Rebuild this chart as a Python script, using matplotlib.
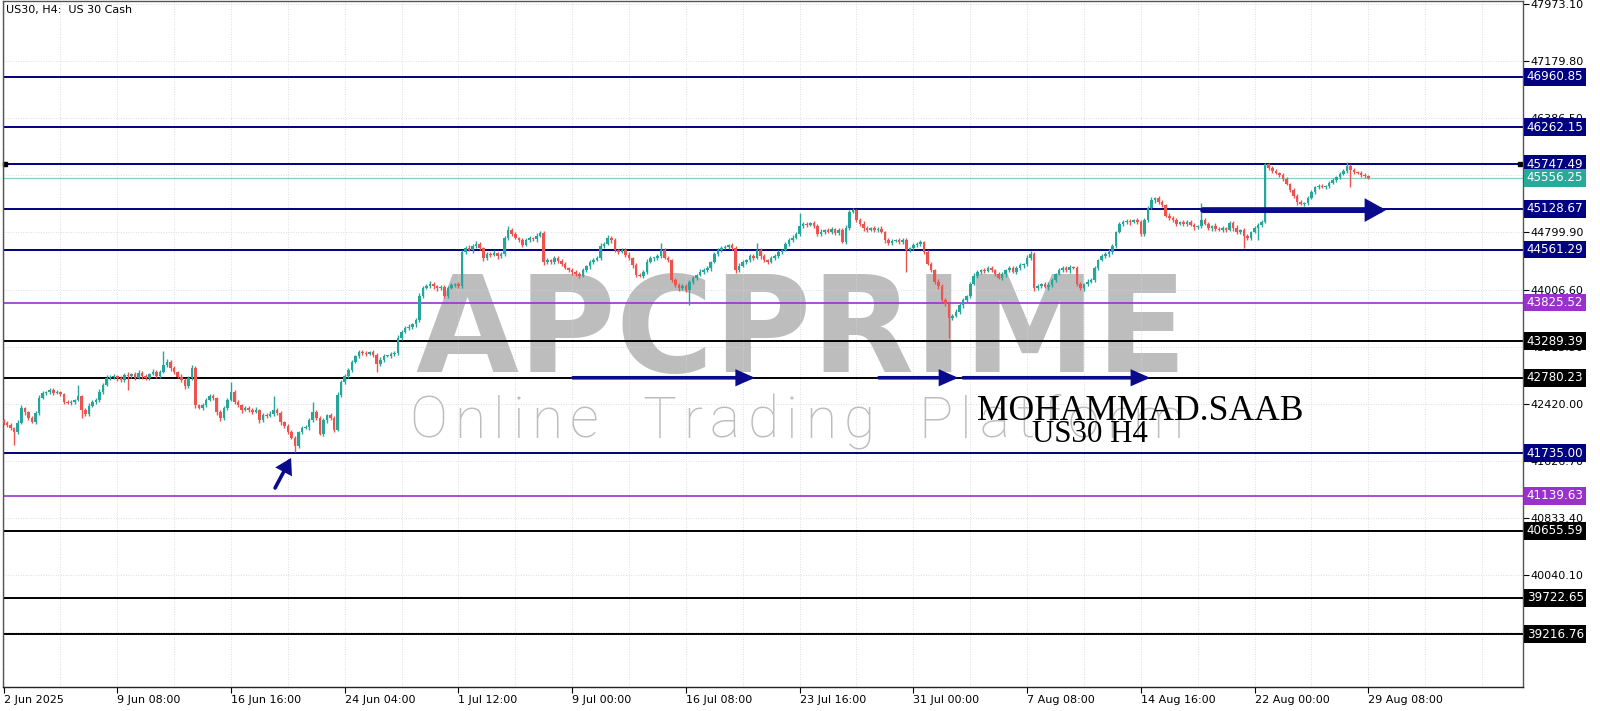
import matplotlib
matplotlib.use("Agg")
import matplotlib.pyplot as plt
import matplotlib.transforms as mtransforms
import numpy as np

# ------------------------------------------------------------------ data
first_open = 42190.0
closes = [42150,
  # 2 Jun .. 9 Jun
  42124, 42082, 42027, 42152, 42360, 42305, 42221, 42166, 42291, 42499, 42569, 42583, 42610, 42569, 42583, 42555,
  42444, 42430, 42444, 42471, 42527, 42332, 42277, 42388, 42444, 42471, 42583, 42680, 42777, 42791, 42805, 42777,
  # 9 Jun .. 16 Jun
  42749, 42819, 42805, 42833, 42777, 42847, 42805, 42777, 42833, 42861, 42805, 42861, 42958, 42999, 42916, 42861,
  42791, 42749, 42666, 42777, 42916, 42402, 42360, 42402, 42471, 42527, 42499, 42305, 42221, 42360, 42471, 42583,
  # 16 Jun .. 24 Jun
  42444, 42402, 42332, 42360, 42332, 42305, 42332, 42193, 42263, 42249, 42277, 42332, 42291, 42166, 42110, 42027,
  41943, 41832, 42027, 42082, 42096, 42193, 42305, 42221, 41999, 42193, 42263, 42221, 42054, 42541, 42722, 42805,
  # 24 Jun .. 1 Jul
  42888, 42999, 43083, 43138, 43125, 43111, 43138, 43097, 42971, 43027, 43083, 43083, 43111, 43125, 43333, 43416,
  43472, 43486, 43527, 43583, 43916, 44027, 44055, 44083, 44055, 44027, 44041, 43916, 44027, 44069, 44083, 44055,
  # 1 Jul .. 9 Jul
  44528, 44583, 44555, 44611, 44639, 44583, 44444, 44500, 44486, 44514, 44472, 44500, 44722, 44833, 44778, 44722,
  44694, 44625, 44694, 44722, 44708, 44750, 44792, 44389, 44416, 44389, 44444, 44402, 44361, 44305, 44277, 44250,
  # 9 Jul .. 16 Jul
  44222, 44194, 44277, 44333, 44389, 44416, 44444, 44611, 44639, 44722, 44694, 44555, 44528, 44555, 44486, 44444,
  44347, 44208, 44194, 44250, 44389, 44444, 44444, 44472, 44555, 44444, 44416, 44139, 44069, 44027, 44055, 44000,
  # 16 Jul .. 23 Jul
  44111, 44166, 44208, 44250, 44277, 44305, 44389, 44500, 44555, 44583, 44597, 44625, 44583, 44277, 44333, 44389,
  44416, 44472, 44444, 44555, 44472, 44416, 44389, 44444, 44472, 44528, 44555, 44639, 44694, 44722, 44778, 44889,
  # 23 Jul .. 31 Jul
  44917, 44903, 44931, 44889, 44778, 44806, 44833, 44806, 44847, 44792, 44833, 44667, 44861, 45083, 45111, 44972,
  44917, 44861, 44833, 44861, 44833, 44847, 44806, 44694, 44653, 44681, 44694, 44667, 44694, 44555, 44583, 44625,
  # 31 Jul .. 7 Aug
  44639, 44667, 44528, 44361, 44277, 44111, 44055, 43861, 43805, 43611, 43639, 43694, 43791, 43861, 43916, 44083,
  44194, 44250, 44277, 44264, 44305, 44277, 44222, 44166, 44222, 44277, 44305, 44250, 44305, 44347, 44361, 44444,
  # 7 Aug .. 14 Aug
  44500, 44027, 44055, 44083, 44041, 44069, 44139, 44222, 44277, 44305, 44277, 44319, 44305, 44083, 44027, 44083,
  44111, 44139, 44305, 44416, 44472, 44500, 44528, 44611, 44806, 44917, 44944, 44958, 44944, 44972, 44944, 44778,
  # 14 Aug .. 22 Aug
  44972, 45139, 45250, 45278, 45222, 45181, 45028, 45000, 44972, 44917, 44944, 44917, 44944, 44903, 44875, 44889,
  44972, 44917, 44861, 44889, 44847, 44833, 44861, 44833, 44931, 44861, 44806, 44833, 44750, 44722, 44806, 44861,
  # 22 Aug .. 29 Aug
  44903, 44944, 45750, 45694, 45653, 45625, 45597, 45542, 45472, 45389, 45306, 45222, 45194, 45208, 45278, 45361,
  45431, 45445, 45431, 45445, 45486, 45528, 45570, 45611, 45653, 45722, 45667, 45639, 45625, 45597, 45583, 45556.25,
]

wick_up = [20,
  25, 30, 20, 35, 40, 20, 15, 30, 25, 45, 30, 20, 35, 25, 30, 20, 15, 25, 30, 20, 153, 20, 25, 35, 30, 25, 40, 30, 35, 25, 30, 20,
  30, 25, 35, 20, 30, 40, 25, 30, 20, 35, 30, 25, 195, 40, 30, 25, 20, 35, 30, 25, 40, 30, 20, 25, 35, 30, 25, 20, 30, 35, 25, 139,
  30, 25, 20, 35, 30, 25, 40, 20, 30, 25, 35, 195, 25, 30, 20, 25, 30, 25, 20, 35, 30, 25, 139, 30, 25, 35, 20, 30, 25, 40, 30, 25,
  25, 30, 20, 35, 25, 30, 20, 25, 30, 35, 25, 20, 30, 25, 40, 30, 25, 35, 20, 30, 45, 30, 25, 35, 30, 20, 25, 30, 35, 25, 20, 30,
  30, 25, 35, 30, 40, 25, 20, 30, 25, 35, 20, 25, 30, 50, 25, 30, 20, 35, 25, 30, 20, 40, 30, 25, 35, 20, 30, 25, 35, 30, 20, 25,
  30, 25, 35, 20, 30, 25, 30, 35, 25, 40, 30, 25, 20, 30, 25, 35, 20, 30, 25, 30, 35, 25, 20, 30, 98, 25, 30, 20, 25, 30, 35, 25,
  25, 30, 20, 35, 25, 30, 20, 25, 35, 30, 25, 20, 30, 25, 35, 30, 20, 25, 30, 98, 25, 30, 20, 35, 25, 30, 20, 25, 30, 35, 25, 180,
  30, 25, 20, 30, 25, 35, 20, 30, 25, 20, 30, 25, 35, 30, 25, 20, 30, 35, 25, 20, 30, 25, 35, 20, 30, 25, 20, 35, 30, 25, 20, 30,
  25, 30, 20, 25, 30, 20, 35, 25, 30, 20, 25, 35, 30, 25, 20, 30, 35, 25, 20, 30, 25, 35, 20, 30, 25, 20, 30, 35, 25, 30, 20, 40,
  40, 25, 30, 20, 25, 35, 30, 20, 25, 30, 35, 25, 20, 30, 25, 20, 35, 30, 25, 20, 30, 25, 35, 30, 20, 25, 30, 35, 25, 20, 30, 25,
  25, 30, 35, 20, 25, 30, 20, 35, 25, 30, 20, 25, 30, 35, 25, 20, 236, 30, 25, 20, 35, 30, 25, 20, 30, 25, 35, 20, 30, 25, 20, 30,
  30, 25, 15, 20, 30, 25, 20, 30, 25, 20, 30, 25, 35, 20, 30, 25, 20, 30, 25, 20, 30, 25, 20, 30, 25, 56, 30, 25, 20, 30, 25, 20,
]

wick_dn = [25,
  30, 25, 181, 30, 20, 35, 25, 20, 30, 25, 20, 30, 25, 35, 20, 30, 25, 20, 30, 25, 20, 111, 30, 25, 20, 35, 25, 30, 20, 25, 30, 35,
  25, 30, 200, 25, 30, 20, 35, 25, 30, 20, 25, 30, 20, 25, 35, 30, 20, 25, 40, 30, 25, 35, 20, 30, 25, 20, 30, 40, 35, 25, 30, 20,
  25, 30, 35, 20, 25, 30, 20, 35, 25, 30, 20, 25, 30, 35, 25, 30, 20, 87, 30, 25, 20, 35, 25, 30, 20, 25, 35, 30, 25, 20, 30, 25,
  30, 25, 20, 30, 25, 35, 20, 30, 110, 25, 30, 20, 25, 35, 30, 25, 20, 30, 25, 35, 30, 25, 20, 30, 35, 40, 25, 30, 25, 20, 30, 25,
  25, 30, 20, 35, 25, 30, 40, 25, 30, 20, 35, 25, 30, 25, 35, 20, 30, 25, 20, 30, 25, 35, 20, 40, 30, 25, 35, 30, 25, 20, 30, 35,
  25, 30, 20, 25, 35, 30, 20, 25, 30, 20, 35, 25, 30, 20, 25, 30, 35, 25, 20, 30, 25, 20, 35, 30, 25, 20, 30, 35, 25, 40, 30, 25,
  209, 30, 25, 20, 30, 25, 35, 20, 30, 25, 20, 30, 25, 35, 30, 20, 25, 30, 25, 20, 35, 30, 25, 20, 30, 25, 35, 20, 25, 30, 20, 25,
  25, 30, 20, 25, 35, 30, 25, 20, 30, 25, 35, 20, 30, 25, 20, 30, 25, 35, 30, 20, 25, 30, 20, 35, 25, 30, 20, 25, 30, 305, 25, 30,
  30, 25, 35, 20, 30, 25, 35, 30, 25, 278, 30, 20, 25, 35, 30, 25, 20, 30, 25, 35, 20, 30, 25, 20, 30, 35, 25, 20, 30, 25, 35, 30,
  25, 40, 30, 25, 20, 35, 30, 25, 20, 30, 25, 35, 20, 30, 25, 35, 30, 20, 25, 30, 20, 25, 35, 30, 25, 20, 30, 25, 35, 20, 30, 25,
  30, 25, 20, 35, 25, 30, 20, 25, 30, 35, 20, 25, 30, 20, 35, 25, 30, 20, 25, 35, 30, 20, 25, 30, 20, 35, 25, 30, 167, 25, 30, 20,
  167, 30, 20, 25, 30, 20, 25, 30, 20, 25, 30, 35, 20, 25, 30, 20, 25, 30, 20, 25, 30, 20, 25, 30, 20, 25, 236, 30, 20, 25, 30, 20,
]

date_label_bars = [0, 32, 64, 96, 128, 160, 192, 224, 256, 288, 320, 352, 384]
date_labels = ["2 Jun 2025", "9 Jun 08:00", "16 Jun 16:00", "24 Jun 04:00", "1 Jul 12:00",
               "9 Jul 00:00", "16 Jul 08:00", "23 Jul 16:00", "31 Jul 00:00", "7 Aug 08:00",
               "14 Aug 16:00", "22 Aug 00:00", "29 Aug 08:00"]

price_ticks = [47973.10, 47179.80, 46386.50, 45593.20, 44799.90, 44006.60,
               43213.30, 42420.00, 41626.70, 40833.40, 40040.10, 39246.80]
# tick labels that the price boxes cover completely in the chart
hidden_ticks = [45593.20, 39246.80]

levels = [46960.85, 46262.15, 45747.49, 45556.25, 45128.67, 44561.29, 43825.52,
          43289.39, 42780.23, 41735.00, 41139.63, 40655.59, 39722.65, 39216.76]
level_kinds = ["navy", "navy", "navy", "bid", "navy", "navy", "purple",
               "black", "black", "navy", "purple", "black", "black", "black"]

# arrows drawn on the chart: (bar from, price from, bar to, price to, kind)
arrows = [
    (76.4, 41249, 80.9, 41666, "small"),
    (160.2, 42780.23, 211.4, 42780.23, "normal"),
    (246.3, 42780.23, 268.6, 42780.23, "normal"),
    (270.0, 42780.23, 322.6, 42780.23, "normal"),
    (337.5, 45110.00, 389.0, 45110.00, "thick"),
]

# ------------------------------------------------------------------ style
UP = "#26a69a"
DN = "#ef5350"
NAVY = "#000080"
ARROW = "#0a0a8c"
STY = {
    "navy":   dict(line=NAVY, lw=1.4, box=NAVY),
    "bid":    dict(line="#8ccccc", lw=0.9, box="#2aa89c"),
    "purple": dict(line="#9932cc", lw=1.2, box="#9932cc"),
    "black":  dict(line="#000000", lw=1.4, box="#000000"),
}

W, H, DPI = 1600, 711, 100
fig = plt.figure(figsize=(W / DPI, H / DPI), dpi=DPI)
fig.patch.set_facecolor("white")
L, R, T, B = 3, 1523, 1, 687
ax = fig.add_axes([L / W, 1 - B / H, (R - L) / W, (B - T) / H])
ax.patch.set_visible(False)

BAR_PX = 3.554
x0 = -0.15
ax.set_xlim(x0, x0 + (R - L) / BAR_PX)
PT_PER_PX = 13.893
ymax = 47973.10 + (4 - T) * PT_PER_PX
ax.set_ylim(ymax - (B - T) * PT_PER_PX, ymax)

# grid
for xb in range(0, 430, 16):
    ax.axvline(xb, color="#d4d4d4", lw=0.6, ls=(0, (1, 2)), zorder=0)
for p in price_ticks:
    ax.axhline(p, color="#d4d4d4", lw=0.6, ls=(0, (1, 2)), zorder=0)

# level lines
ytrans = mtransforms.blended_transform_factory(ax.transAxes, ax.transData)
for lev, kind in zip(levels, level_kinds):
    s = STY[kind]
    ax.axhline(lev, color=s["line"], lw=s["lw"], zorder=1)
    ax.text(1.0025, lev, f"{lev:.2f}", transform=ytrans, color="white", fontsize=8.6,
            va="center", ha="left", clip_on=False, zorder=10,
            bbox=dict(boxstyle="square,pad=0.2", fc=s["box"], ec="none"))
ax.plot([0.3, 426.6], [levels[2], levels[2]], "s", ms=3.5, color="black",
        clip_on=False, zorder=2)

# candles
n = len(closes)
o = np.array([first_open] + closes[:-1], dtype=float)
c = np.array(closes, dtype=float)
hi = np.maximum(o, c) + np.array(wick_up)
lo = np.minimum(o, c) - np.array(wick_dn)
xs = np.arange(n)
cols = np.where(c >= o, UP, DN)
ax.vlines(xs, lo, hi, colors=cols, lw=1.0, zorder=3)
ax.bar(xs, np.maximum(np.abs(c - o), 14), bottom=np.minimum(o, c), width=0.72,
       color=cols, lw=0, zorder=3)

# arrows
ARR = {
    "small":  dict(lw=2.6, hl=0.75, hw=0.45),
    "normal": dict(lw=2.6, hl=0.95, hw=0.42),
    "thick":  dict(lw=4.2, hl=0.9, hw=0.5),
}
for xa, ya, xb, yb, kind in arrows:
    a = ARR[kind]
    ax.annotate("", xy=(xb, yb), xytext=(xa, ya),
                arrowprops=dict(arrowstyle=f"-|>,head_length={a['hl']},head_width={a['hw']}",
                                lw=a["lw"], color=ARROW, shrinkA=0, shrinkB=0,
                                mutation_scale=10, joinstyle="miter"),
                zorder=6)

# axes appearance
for sp in ax.spines.values():
    sp.set_color("#555555")
    sp.set_linewidth(1.0)
ax.spines["bottom"].set_color("#222222")
ax.yaxis.tick_right()
ax.set_yticks(price_ticks)
ax.set_yticklabels(["" if p in hidden_ticks else f"{p:.2f}" for p in price_ticks])
ax.set_xticks(date_label_bars)
ax.set_xticklabels(date_labels, ha="left")
ax.tick_params(axis="y", length=4, width=0.8, pad=1, labelsize=8, colors="black")
ax.tick_params(axis="x", length=4, width=0.8, pad=2, labelsize=8, colors="black")

fig.text(6 / W, 1 - 10 / H, "US30, H4:  US 30 Cash", fontsize=8, va="center", ha="left")

# ------------------------------------------------------------------ watermark and signature
fig.canvas.draw()
renderer = fig.canvas.get_renderer()


def fit_text(s, left_px, baseline_px, width_px, **kw):
    t = fig.text(left_px / W, 1 - baseline_px / H, s, va="baseline", ha="left",
                 fontsize=100, **kw)
    w = t.get_window_extent(renderer).width
    t.set_fontsize(100 * width_px / w)
    return t


def tracked_text(s, left_px, right_px, baseline_px, fontsize, space_em=0.3, **kw):
    widths = []
    for ch in s:
        if ch == " ":
            widths.append(fontsize * DPI / 72 * space_em)
            continue
        t = fig.text(0, 0, ch, fontsize=fontsize, **kw)
        widths.append(t.get_window_extent(renderer).width)
        t.remove()
    gap = (right_px - left_px - sum(widths)) / (len(s) - 1)
    x = left_px
    for ch, w in zip(s, widths):
        if ch != " ":
            fig.text(x / W, 1 - baseline_px / H, ch, fontsize=fontsize, va="baseline",
                     ha="left", **kw)
        x += w + gap


WM = "#bdbdbd"
fit_text("APCPRIME", 415, 372, 772, family="DejaVu Sans", fontweight="bold",
         color=WM, zorder=-1)
tracked_text("Online Trading Platform", 409, 1184, 438, 41, space_em=0.5,
             family="Roboto", fontweight="light", color=WM, zorder=-1)
fit_text("MOHAMMAD.SAAB", 977, 420, 326, family="Liberation Serif", color="black", zorder=30)
fit_text("US30 H4", 1032, 442, 116, family="Liberation Serif", color="black", zorder=30)

fig.savefig("out.png", dpi=DPI)
